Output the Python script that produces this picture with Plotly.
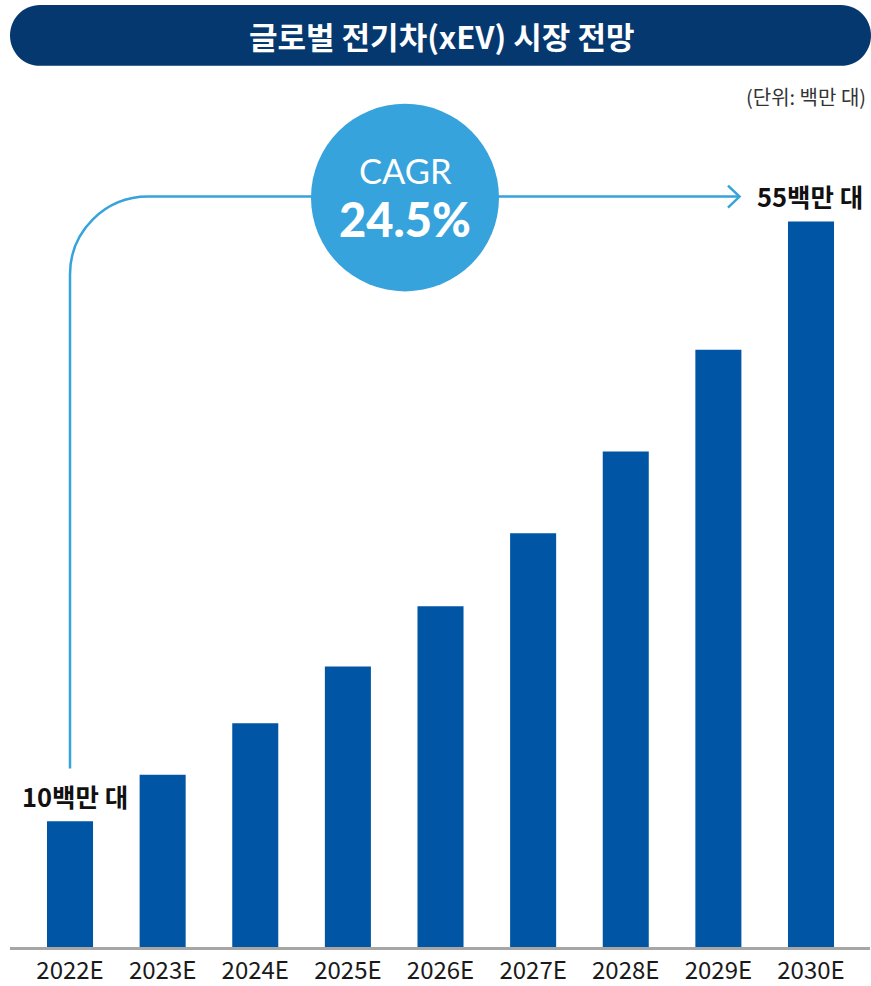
import plotly.graph_objects as go

# ---- data ----
years = ["2022E", "2023E", "2024E", "2025E", "2026E", "2027E", "2028E", "2029E", "2030E"]
units_mn = [10.0, 13.7, 17.8, 22.3, 27.1, 32.9, 39.4, 47.5, 57.7]
start_label = "10백만 대"
end_label = "55백만 대"
cagr_label = "CAGR"
cagr_value = "24.5%"
title_text = "글로벌 전기차(xEV) 시장 전망"
unit_text = "(단위: 백만 대)"

W, H = 871, 986
ML, MR, MT, MB = 10, 1, 0, 37
PW, PH = W - ML - MR, H - MT - MB

BAR = "#0055a4"
CYAN = "#36a3dc"
NAVY = "#04386f"
KFONT = "Noto Sans CJK KR"


def px(x):
    return (x - ML) / PW


def py(y):
    return 1 - (y - MT) / PH


fig = go.Figure()
fig.add_trace(go.Bar(
    x=years, y=units_mn, marker=dict(color=BAR, line=dict(width=0)),
    width=0.497, hoverinfo="skip",
))

shapes = []
# title pill
shapes.append(dict(
    type="path", xref="paper", yref="paper",
    path=(f"M {px(40)},{py(5)} L {px(841)},{py(5)} "
          f"C {px(858)},{py(5)} {px(871)},{py(19)} {px(871)},{py(35.5)} "
          f"C {px(871)},{py(52)} {px(858)},{py(66)} {px(841)},{py(66)} "
          f"L {px(40)},{py(66)} "
          f"C {px(23)},{py(66)} {px(10)},{py(52)} {px(10)},{py(35.5)} "
          f"C {px(10)},{py(19)} {px(23)},{py(5)} {px(40)},{py(5)} Z"),
    fillcolor=NAVY, line=dict(width=0), layer="above",
))
# connector line
r = 78
k = 0.552 * r
shapes.append(dict(
    type="path", xref="paper", yref="paper",
    path=(f"M {px(70)},{py(770)} L {px(70)},{py(197 + r)} "
          f"C {px(70)},{py(197 + r - k)} {px(70 + r - k)},{py(197)} {px(70 + r)},{py(197)} "
          f"L {px(739)},{py(197)}"),
    line=dict(color=CYAN, width=2.5), layer="above",
))
# arrow head
shapes.append(dict(
    type="path", xref="paper", yref="paper",
    path=f"M {px(728)},{py(186)} L {px(739.5)},{py(197)} L {px(728)},{py(208)}",
    line=dict(color=CYAN, width=2.5), layer="above",
))
# CAGR circle
shapes.append(dict(
    type="circle", xref="paper", yref="paper",
    x0=px(311), x1=px(499), y0=py(292), y1=py(104),
    fillcolor=CYAN, line=dict(width=0), layer="above",
))

annotations = [
    dict(text=title_text, x=px(441), y=py(36), xref="paper", yref="paper",
         showarrow=False, font=dict(family=KFONT, size=31, color="white", weight="bold"),
         xanchor="center", yanchor="middle"),
    dict(text=unit_text, x=px(868), y=py(97), xref="paper", yref="paper",
         showarrow=False, font=dict(family=KFONT, size=20, color="#333333"),
         xanchor="right", yanchor="middle"),
    dict(text=cagr_label, x=px(405), y=py(171), xref="paper", yref="paper",
         showarrow=False, font=dict(family="Lato", size=34.5, color="white"),
         xanchor="center", yanchor="middle"),
    dict(text=cagr_value, x=px(405), y=py(219), xref="paper", yref="paper",
         showarrow=False, font=dict(family="Lato", size=47, color="white", weight=900),
         xanchor="center", yanchor="middle"),
    dict(text=end_label, x=px(810), y=py(196), xref="paper", yref="paper",
         showarrow=False, font=dict(family=KFONT, size=25.5, color="#111111", weight="bold"),
         xanchor="center", yanchor="middle"),
    dict(text=start_label, x=px(75), y=py(797), xref="paper", yref="paper",
         showarrow=False, font=dict(family=KFONT, size=25.5, color="#111111", weight="bold"),
         xanchor="center", yanchor="middle"),
]

fig.update_layout(
    width=W, height=H,
    margin=dict(l=ML, r=MR, t=MT, b=MB, pad=0),
    paper_bgcolor="white", plot_bgcolor="white",
    showlegend=False,
    shapes=shapes, annotations=annotations,
    xaxis=dict(
        type="category", range=[-0.648, 8.637], showgrid=False, zeroline=False,
        showline=True, linecolor="#a6a6a6", linewidth=2.5, ticks="",
        tickfont=dict(family=KFONT, size=24, color="#1a1a1a"), fixedrange=True,
    ),
    yaxis=dict(
        range=[0, PH / 12.6], visible=False, showgrid=False, zeroline=False, fixedrange=True,
    ),
)

fig.write_html("out.html")
